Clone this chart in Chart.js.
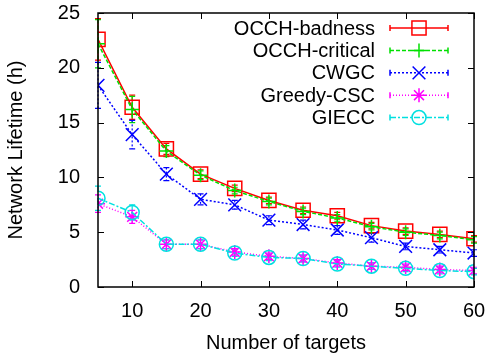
<!DOCTYPE html>
<html>
<head>
<meta charset="utf-8">
<script src="https://cdn.jsdelivr.net/npm/chart.js@4"></script>
<style>
  html, body { margin: 0; padding: 0; background: #fff; }
  #wrap { width: 490px; height: 359px; }
</style>
</head>
<body>
<div id="wrap"><canvas id="chart" width="490" height="359"></canvas></div>
<script>
const targets = [5, 10, 15, 20, 25, 30, 35, 40, 45, 50, 55, 60];
const xTicks = [10, 20, 30, 40, 50, 60];
const yTicks = [0, 5, 10, 15, 20, 25];

const occhBadness  = [22.6, 16.4, 12.6, 10.3, 9.0, 7.9, 7.0, 6.5, 5.6, 5.1, 4.8, 4.4];
const occhCritical = [22.2, 16.2, 12.4, 10.2, 8.8, 7.8, 6.9, 6.3, 5.5, 5.0, 4.7, 4.3];
const cwgc         = [18.4, 13.9, 10.3, 8.0, 7.5, 6.1, 5.7, 5.2, 4.5, 3.7, 3.4, 3.1];
const greedyCsc    = [7.6, 6.4, 3.9, 3.9, 3.2, 2.8, 2.6, 2.2, 1.9, 1.8, 1.6, 1.5];
const giecc        = [8.1, 6.8, 3.9, 3.9, 3.1, 2.7, 2.6, 2.1, 1.9, 1.7, 1.5, 1.4];

const errBadness  = [1.9, 1.1, 0.5, 0.4, 0.3, 0.3, 0.3, 0.3, 0.3, 0.3, 0.3, 0.3];
const errCritical = [2.2, 1.2, 0.5, 0.4, 0.3, 0.3, 0.3, 0.3, 0.3, 0.3, 0.3, 0.3];
const errCwgc     = [2.1, 1.3, 0.6, 0.5, 0.4, 0.4, 0.4, 0.4, 0.4, 0.3, 0.3, 0.3];
const errGreedy   = [0.8, 0.6, 0.4, 0.4, 0.3, 0.3, 0.3, 0.3, 0.3, 0.3, 0.3, 0.3];
const errGiecc    = [1.1, 0.7, 0.4, 0.4, 0.3, 0.3, 0.3, 0.3, 0.3, 0.3, 0.3, 0.3];

const FONT = '"Liberation Sans", Arial, sans-serif';

function series(label, values, errs, color, style, radius, dash, order) {
  return {
    label: label,
    data: targets.map((x, i) => ({ x: x, y: values[i] })),
    errors: errs,
    order: order,
    borderColor: color,
    backgroundColor: 'transparent',
    borderWidth: 1.5,
    borderDash: dash,
    pointStyle: style,
    pointRadius: radius,
    pointBorderWidth: 1.5,
    pointBorderColor: color,
    pointBackgroundColor: 'transparent',
    fill: false,
    tension: 0
  };
}

// kill the label overflow padding so layout.padding fixes the plot box
function noOverflow(s) {
  s.paddingTop = 0; s.paddingBottom = 0; s.paddingLeft = 0; s.paddingRight = 0;
}

// error bars, inward ticks and the gnuplot-style key
const gnuplotBits = {
  id: 'gnuplotBits',
  beforeDatasetsDraw(chart) {
    const ctx = chart.ctx;
    const ys = chart.scales.y;
    chart.data.datasets.forEach((ds, di) => {
      const meta = chart.getDatasetMeta(di);
      ctx.save();
      ctx.strokeStyle = ds.borderColor;
      ctx.lineWidth = 1.2;
      meta.data.forEach((pt, i) => {
        const v = ds.data[i].y, e = ds.errors[i];
        const top = ys.getPixelForValue(v + e);
        const bot = ys.getPixelForValue(v - e);
        ctx.setLineDash(ds.borderDash);
        ctx.beginPath();
        ctx.moveTo(pt.x, top); ctx.lineTo(pt.x, bot);
        ctx.stroke();
        ctx.setLineDash([]);
        ctx.beginPath();
        ctx.moveTo(pt.x - 3, top); ctx.lineTo(pt.x + 3, top);
        ctx.moveTo(pt.x - 3, bot); ctx.lineTo(pt.x + 3, bot);
        ctx.stroke();
      });
      ctx.restore();
    });
  },
  afterDraw(chart) {
    const ctx = chart.ctx;
    const a = chart.chartArea;
    const xs = chart.scales.x, ys = chart.scales.y;
    ctx.save();
    ctx.strokeStyle = '#000';
    ctx.lineWidth = 1.5;
    ctx.strokeRect(a.left, a.top, a.right - a.left, a.bottom - a.top);
    ctx.lineWidth = 1;
    ctx.beginPath();
    xTicks.forEach(t => {
      const px = Math.round(xs.getPixelForValue(t)) + 0.5;
      ctx.moveTo(px, a.bottom); ctx.lineTo(px, a.bottom - 6);
      ctx.moveTo(px, a.top); ctx.lineTo(px, a.top + 6);
    });
    yTicks.forEach(t => {
      const py = Math.round(ys.getPixelForValue(t)) + 0.5;
      ctx.moveTo(a.left, py); ctx.lineTo(a.left + 6, py);
      ctx.moveTo(a.right, py); ctx.lineTo(a.right - 6, py);
    });
    ctx.stroke();

    // key
    const textRight = 375, lineL = 390, lineR = 448, y0 = 28, step = 22.4;
    ctx.font = '20px ' + FONT;
    ctx.textAlign = 'right';
    ctx.textBaseline = 'middle';
    chart.data.datasets.forEach((ds, i) => {
      const y = y0 + i * step;
      ctx.fillStyle = '#000';
      ctx.fillText(ds.label, textRight, y + 1);
      ctx.strokeStyle = ds.borderColor;
      ctx.lineWidth = 1.5;
      ctx.setLineDash(ds.borderDash);
      ctx.beginPath();
      ctx.moveTo(lineL, y); ctx.lineTo(lineR, y);
      ctx.stroke();
      ctx.setLineDash([]);
      ctx.beginPath();
      ctx.moveTo(lineL, y - 3); ctx.lineTo(lineL, y + 3);
      ctx.moveTo(lineR, y - 3); ctx.lineTo(lineR, y + 3);
      ctx.stroke();
      ctx.fillStyle = 'rgba(0,0,0,0)';
      Chart.helpers.drawPoint(ctx, {
        pointStyle: ds.pointStyle, radius: ds.pointRadius, rotation: 0, borderWidth: 1.5
      }, (lineL + lineR) / 2, y);
    });
    ctx.restore();
  }
};

new Chart(document.getElementById('chart'), {
  type: 'line',
  data: {
    datasets: [
      series('OCCH-badness', occhBadness, errBadness, '#ff0000', 'rect', 10, [], 5),
      series('OCCH-critical', occhCritical, errCritical, '#00e000', 'cross', 7, [4, 2], 4),
      series('CWGC', cwgc, errCwgc, '#0000ff', 'crossRot', 9, [2, 2], 3),
      series('Greedy-CSC', greedyCsc, errGreedy, '#ff00ff', 'star', 7, [1, 2], 2),
      series('GIECC', giecc, errGiecc, '#00e0e0', 'circle', 7, [6, 2, 2, 2], 1)
    ]
  },
  plugins: [gnuplotBits],
  options: {
    responsive: false,
    animation: false,
    layout: { autoPadding: false, padding: { top: 13, right: 16, left: 0, bottom: 0 } },
    plugins: { legend: { display: false }, tooltip: { enabled: false } },
    scales: {
      x: {
        type: 'linear',
        min: 5,
        max: 60,
        afterBuildTicks: s => { s.ticks = xTicks.map(v => ({ value: v })); },
        afterFit: s => { s.height = 72; noOverflow(s); },
        grid: { display: false, drawTicks: false },
        border: { display: false },
        ticks: { color: '#000', font: { family: FONT, size: 20 }, padding: 12, maxRotation: 0 },
        title: { display: true, text: 'Number of targets', color: '#000', font: { family: FONT, size: 20 }, padding: { top: 4 } }
      },
      y: {
        min: 0,
        max: 25,
        afterBuildTicks: s => { s.ticks = yTicks.map(v => ({ value: v })); },
        afterFit: s => { s.width = 98; noOverflow(s); },
        grid: { display: false, drawTicks: false },
        border: { display: false },
        ticks: { color: '#000', font: { family: FONT, size: 20 }, padding: 18 },
        title: { display: true, text: 'Network Lifetime (h)', color: '#000', font: { family: FONT, size: 20 }, padding: { bottom: 4 } }
      }
    }
  }
});
</script>
</body>
</html>
